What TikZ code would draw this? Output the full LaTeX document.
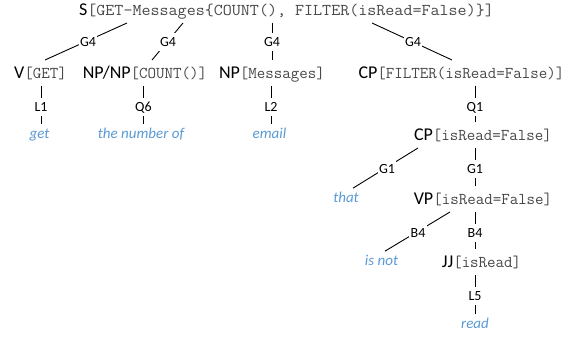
\documentclass[tikz,border=0pt]{standalone}
\usepackage{fontspec}
\usepackage{graphicx}
\setmainfont{Carlito}
\usetikzlibrary{backgrounds}

\definecolor{semgray}{RGB}{72,72,72}
\definecolor{wordblue}{RGB}{91,155,213}

% semantic part of a category, in typewriter grey
\newcommand{\sem}[1]{{\ttfamily\fontsize{16.5pt}{18pt}\selectfont\color{semgray}#1}}
\newcommand{\semwide}[1]{\scalebox{1.063}[1]{\sem{#1}}}

\tikzset{
  cat/.style={font=\fontsize{18pt}{20pt}\selectfont, text height=11.6pt, text depth=0pt,
              inner xsep=0pt, inner ysep=7.2pt, outer sep=0pt},
  rel/.style={font=\fontsize{14pt}{16pt}\selectfont, text height=9pt, text depth=0pt,
              inner xsep=1.5pt, inner ysep=4.5pt, outer sep=0pt, fill=white},
  word/.style={font=\fontsize{15pt}{17pt}\selectfont\itshape, text=wordblue,
               text height=9.7pt, text depth=0pt, inner xsep=0pt, inner ysep=5pt, outer sep=0pt},
  edge/.style={draw=black, line width=0.9pt}
}

\begin{document}
\begin{tikzpicture}[x=1pt, y=-1pt]
\useasboundingbox (0,0) rectangle (587,337);

% categories
\node[cat] (root)  at (286.5,10) {S\semwide{[GET-Messages\{COUNT(), FILTER(isRead=False)\}]}};
\node[cat] (vget)  at (40.5,73)  {V\sem{[GET]}};
\node[cat] (npnp)  at (145,73)   {NP/NP\sem{[COUNT()]}};
\node[cat] (npmsg) at (272,73)   {NP\sem{[Messages]}};
\node[cat] (cpf)   at (461.5,73) {CP\sem{[FILTER(isRead=False)]}};
\node[cat] (cpi)   at (483,135)  {CP\sem{[isRead=False]}};
\node[cat] (vp)    at (483,199)  {VP\sem{[isRead=False]}};
\node[cat] (jj)    at (481.5,262) {JJ\sem{[isRead]}};

% words
\node[word] (get)   at (39.5,134) {get};
\node[word] (num)   at (141,134)  {the number of};
\node[word] (email) at (269.5,134) {email};
\node[word] (that)  at (346,198)  {that};
\node[word] (isnot) at (381.5,261) {is not};
\node[word] (read)  at (475,324)  {read};

% rule labels
\node[rel] (g4a) at (88,42)    {G4};
\node[rel] (g4b) at (168,42)   {G4};
\node[rel] (g4c) at (272,42)   {G4};
\node[rel] (g4d) at (413,42)   {G4};
\node[rel] (l1)  at (41,107)   {L1};
\node[rel] (q6)  at (143.5,107) {Q6};
\node[rel] (l2)  at (271,107)  {L2};
\node[rel] (q1)  at (475,107)  {Q1};
\node[rel] (g1l) at (387,169)  {G1};
\node[rel] (g1r) at (475,169)  {G1};
\node[rel] (b4l) at (418,233)  {B4};
\node[rel] (b4r) at (475,233)  {B4};
\node[rel] (l5)  at (475,296)  {L5};

\begin{pgfonlayer}{background}
  \fill[white] (0,0) rectangle (587,337);
  % root children
  \draw[edge] (root.south -| 127,0) -- (vget.north -| 45,0);
  \draw[edge] (root.south -| 183,0) -- (npnp.north -| 152,0);
  \draw[edge] (root.south -| g4c) -- (npmsg.north -| g4c);
  \draw[edge] (root.south -| 372,0) -- (cpf.north -| 452,0);
  % lexical entries
  \draw[edge] (vget.south -| l1) -- (get.north -| l1);
  \draw[edge] (npnp.south -| q6) -- (num.north -| q6);
  \draw[edge] (npmsg.south -| l2) -- (email.north -| l2);
  % filter branch
  \draw[edge] (cpf.south -| q1) -- (cpi.north -| q1);
  \draw[edge] (cpi.south -| 418,0) -- (that.north -| 353,0);
  \draw[edge] (cpi.south -| g1r) -- (vp.north -| g1r);
  \draw[edge] (vp.south -| 450,0) -- (isnot.north -| 385,0);
  \draw[edge] (vp.south -| b4r) -- (jj.north -| b4r);
  \draw[edge] (jj.south -| l5) -- (read.north -| l5);
\end{pgfonlayer}
\end{tikzpicture}
\end{document}
